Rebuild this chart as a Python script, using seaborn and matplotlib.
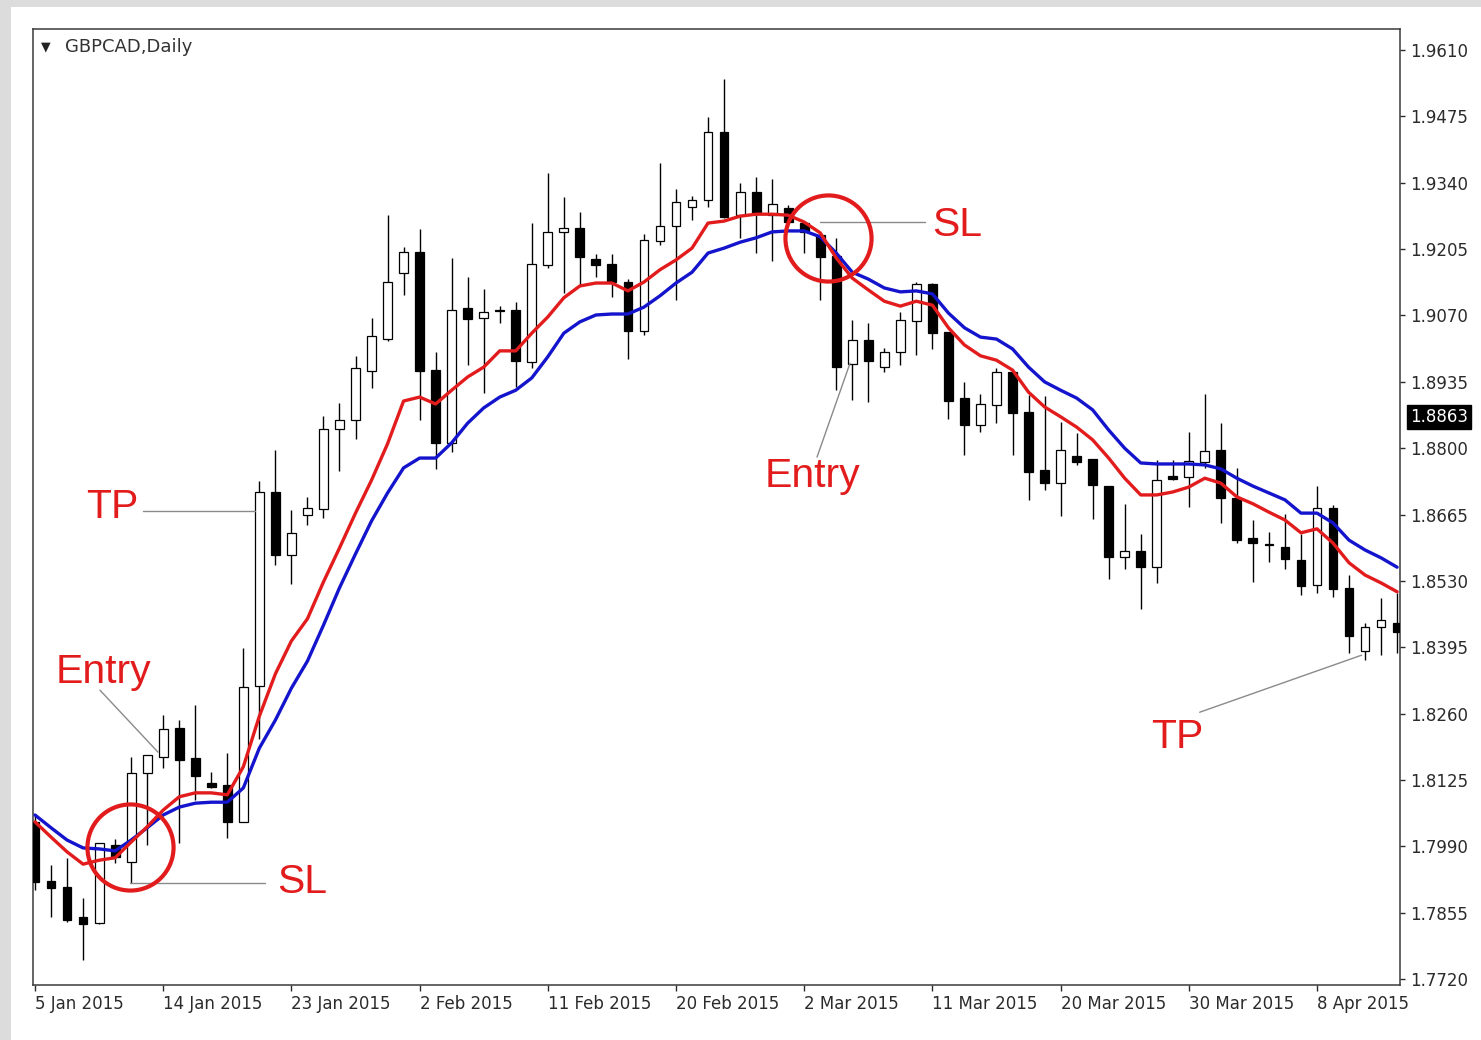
import numpy as np
import pandas as pd
import matplotlib
matplotlib.use("Agg")
import matplotlib.pyplot as plt
import matplotlib.transforms as mtrans
from matplotlib.patches import Rectangle
import seaborn as sns

# ---------------- data ----------------
symbol_title = "GBPCAD,Daily"

opens = [1.8040, 1.7920, 1.7908, 1.7847, 1.7834, 1.7993, 1.7958, 1.8139, 1.8172, 1.8231,
         1.8170, 1.8119, 1.8115, 1.8040, 1.8316, 1.8711, 1.8583, 1.8664, 1.8676, 1.8839,
         1.8857, 1.8957, 1.9022, 1.9156, 1.9199, 1.8959, 1.8811, 1.9085, 1.9065, 1.9079,
         1.9081, 1.8975, 1.9173, 1.9240, 1.9248, 1.9185, 1.9175, 1.9138, 1.9038, 1.9222,
         1.9252, 1.9291, 1.9305, 1.9443, 1.9274, 1.9321, 1.9274, 1.9289, 1.9258, 1.9234,
         1.9191, 1.8971, 1.9020, 1.8965, 1.8996, 1.9059, 1.9134, 1.9036, 1.8902, 1.8847,
         1.8888, 1.8955, 1.8874, 1.8756, 1.8729, 1.8784, 1.8778, 1.8723, 1.8579, 1.8591,
         1.8558, 1.8744, 1.8741, 1.8772, 1.8796, 1.8699, 1.8617, 1.8605, 1.8599, 1.8573,
         1.8522, 1.8678, 1.8516, 1.8388, 1.8436, 1.8445]

highs = [1.8054, 1.7952, 1.7967, 1.7885, 1.7998, 1.8005, 1.8172, 1.8177, 1.8257, 1.8247,
         1.8278, 1.8141, 1.8180, 1.8394, 1.8733, 1.8796, 1.8674, 1.8701, 1.8866, 1.8892,
         1.8988, 1.9065, 1.9274, 1.9209, 1.9246, 1.8996, 1.9187, 1.9148, 1.9124, 1.9089,
         1.9097, 1.9258, 1.9360, 1.9311, 1.9280, 1.9195, 1.9195, 1.9144, 1.9236, 1.9380,
         1.9327, 1.9313, 1.9474, 1.9551, 1.9339, 1.9352, 1.9348, 1.9295, 1.9260, 1.9238,
         1.9228, 1.9061, 1.9055, 1.9004, 1.9077, 1.9138, 1.9136, 1.9037, 1.8935, 1.8910,
         1.8963, 1.8959, 1.8908, 1.8906, 1.8853, 1.8831, 1.8779, 1.8724, 1.8687, 1.8626,
         1.8776, 1.8776, 1.8833, 1.8910, 1.8851, 1.8760, 1.8654, 1.8630, 1.8666, 1.8626,
         1.8724, 1.8685, 1.8542, 1.8445, 1.8495, 1.8506]

lows = [1.7901, 1.7847, 1.7836, 1.7759, 1.7833, 1.7956, 1.7916, 1.7993, 1.8150, 1.7997,
        1.8085, 1.8109, 1.8007, 1.8039, 1.8209, 1.8562, 1.8524, 1.8644, 1.8658, 1.8754,
        1.8819, 1.8923, 1.9018, 1.9112, 1.8857, 1.8758, 1.8792, 1.8969, 1.8912, 1.9055,
        1.8925, 1.8963, 1.9167, 1.9116, 1.9132, 1.9148, 1.9108, 1.8981, 1.9030, 1.9213,
        1.9102, 1.9264, 1.9291, 1.9268, 1.9228, 1.9197, 1.9181, 1.9252, 1.9197, 1.9102,
        1.8918, 1.8898, 1.8894, 1.8955, 1.8969, 1.8990, 1.9002, 1.8859, 1.8786, 1.8833,
        1.8851, 1.8786, 1.8695, 1.8715, 1.8662, 1.8766, 1.8656, 1.8534, 1.8554, 1.8473,
        1.8526, 1.8736, 1.8680, 1.8760, 1.8648, 1.8607, 1.8528, 1.8569, 1.8554, 1.8501,
        1.8506, 1.8497, 1.8384, 1.8369, 1.8379, 1.8384]

closes = [1.7918, 1.7906, 1.7840, 1.7832, 1.7997, 1.7969, 1.8139, 1.8176, 1.8229, 1.8166,
          1.8133, 1.8111, 1.8040, 1.8314, 1.8711, 1.8583, 1.8628, 1.8678, 1.8839, 1.8857,
          1.8963, 1.9028, 1.9138, 1.9199, 1.8957, 1.8811, 1.9081, 1.9063, 1.9077, 1.9081,
          1.8977, 1.9175, 1.9240, 1.9248, 1.9189, 1.9173, 1.9138, 1.9038, 1.9224, 1.9252,
          1.9301, 1.9305, 1.9443, 1.9270, 1.9321, 1.9278, 1.9297, 1.9260, 1.9240, 1.9189,
          1.8965, 1.9020, 1.8977, 1.8996, 1.9061, 1.9134, 1.9034, 1.8896, 1.8847, 1.8890,
          1.8955, 1.8872, 1.8752, 1.8729, 1.8796, 1.8772, 1.8725, 1.8579, 1.8591, 1.8558,
          1.8735, 1.8737, 1.8774, 1.8794, 1.8699, 1.8613, 1.8607, 1.8603, 1.8575, 1.8520,
          1.8678, 1.8514, 1.8418, 1.8436, 1.8451, 1.8426]

ma_red = [1.8040, 1.8009, 1.7979, 1.7954, 1.7962, 1.7967, 1.7999, 1.8030, 1.8064, 1.8091,
          1.8099, 1.8099, 1.8095, 1.8152, 1.8255, 1.8341, 1.8408, 1.8453, 1.8528, 1.8597,
          1.8668, 1.8735, 1.8809, 1.8896, 1.8904, 1.8890, 1.8918, 1.8945, 1.8965, 1.8998,
          1.8998, 1.9034, 1.9067, 1.9106, 1.9130, 1.9136, 1.9136, 1.9120, 1.9138, 1.9163,
          1.9183, 1.9207, 1.9258, 1.9262, 1.9272, 1.9276, 1.9276, 1.9274, 1.9260, 1.9238,
          1.9187, 1.9146, 1.9122, 1.9099, 1.9089, 1.9099, 1.9091, 1.9045, 1.9010, 1.8988,
          1.8979, 1.8959, 1.8914, 1.8884, 1.8864, 1.8843, 1.8817, 1.8780, 1.8739, 1.8705,
          1.8705, 1.8711, 1.8721, 1.8739, 1.8729, 1.8701, 1.8687, 1.8670, 1.8654, 1.8628,
          1.8636, 1.8607, 1.8567, 1.8542, 1.8526, 1.8508]

ma_blue = [1.8054, 1.8028, 1.8003, 1.7987, 1.7985, 1.7981, 1.8003, 1.8028, 1.8054, 1.8070,
           1.8078, 1.8080, 1.8080, 1.8109, 1.8190, 1.8247, 1.8312, 1.8367, 1.8440, 1.8516,
           1.8585, 1.8652, 1.8709, 1.8760, 1.8780, 1.8780, 1.8811, 1.8851, 1.8882, 1.8904,
           1.8918, 1.8943, 1.8986, 1.9034, 1.9057, 1.9071, 1.9073, 1.9073, 1.9087, 1.9110,
           1.9136, 1.9158, 1.9197, 1.9207, 1.9219, 1.9228, 1.9240, 1.9242, 1.9242, 1.9230,
           1.9197, 1.9158, 1.9144, 1.9126, 1.9118, 1.9120, 1.9114, 1.9075, 1.9045, 1.9026,
           1.9022, 1.9002, 1.8965, 1.8935, 1.8918, 1.8902, 1.8878, 1.8837, 1.8800, 1.8770,
           1.8768, 1.8768, 1.8768, 1.8766, 1.8758, 1.8739, 1.8723, 1.8709, 1.8695, 1.8668,
           1.8668, 1.8648, 1.8613, 1.8593, 1.8577, 1.8558]

date_tick_bars = [0, 8, 16, 24, 32, 40, 48, 56, 64, 72, 80]
date_tick_labels = ["5 Jan 2015", "14 Jan 2015", "23 Jan 2015", "2 Feb 2015",
                    "11 Feb 2015", "20 Feb 2015", "2 Mar 2015", "11 Mar 2015",
                    "20 Mar 2015", "30 Mar 2015", "8 Apr 2015"]
price_ticks = ["1.9610", "1.9475", "1.9340", "1.9205", "1.9070", "1.8935", "1.8800",
               "1.8665", "1.8530", "1.8395", "1.8260", "1.8125", "1.7990", "1.7855",
               "1.7720"]
current_price = "1.8863"

# ---------------- figure ----------------
sns.set_style("white")
plt.rcParams["font.family"] = ["DejaVu Sans"]

W, H = 1481, 1040
fig = plt.figure(figsize=(W / 100, H / 100), dpi=100)
fig.patch.set_facecolor("white")
fig.patches.append(Rectangle((0, 0), 11 / W, 1, transform=fig.transFigure,
                             facecolor="#dcdcdc", edgecolor="none", zorder=-10))
fig.patches.append(Rectangle((0, 1 - 7 / H), 1, 7 / H, transform=fig.transFigure,
                             facecolor="#dcdcdc", edgecolor="none", zorder=-10))

ax = fig.add_axes([33 / W, 1 - 985 / H, (1400 - 33) / W, (985 - 29) / H])
ax.set_facecolor("white")

df = pd.DataFrame({"open": opens, "high": highs, "low": lows, "close": closes,
                   "ma_red": ma_red, "ma_blue": ma_blue})
df["bar"] = np.arange(len(df))
up = df["close"] >= df["open"]
body_bottom = np.minimum(df["open"], df["close"])
body_height = np.abs(df["close"] - df["open"])

# wicks and bodies
ax.vlines(df["bar"], df["low"], df["high"], color="black", linewidth=1.0, zorder=2)
ax.bar(df["bar"], body_height, bottom=body_bottom, width=0.55,
       color=np.where(up, "white", "black"), edgecolor="black", linewidth=0.9, zorder=3)

# moving averages
sns.lineplot(data=df, x="bar", y="ma_blue", color="#1414cc", linewidth=2.4, ax=ax, zorder=4)
sns.lineplot(data=df, x="bar", y="ma_red", color="#e21c1c", linewidth=2.4, ax=ax, zorder=4)

# axes limits / ticks
ax.set_xlim(-0.125, 85.18)
ax.set_ylim(1.77082, 1.96527)
ax.set_xlabel("")
ax.set_ylabel("")

ax.yaxis.tick_right()
ax.set_yticks([float(t) for t in price_ticks])
ax.set_yticklabels(price_ticks)
ax.set_xticks(date_tick_bars)
ax.set_xticklabels(date_tick_labels)
for lbl in ax.get_xticklabels():
    lbl.set_horizontalalignment("left")
ax.tick_params(axis="y", which="both", left=False, right=True, direction="out",
               length=3.6, width=1.0, pad=3.5, labelsize=12, colors="#2b2b2b")
ax.tick_params(axis="x", which="both", bottom=True, direction="out",
               length=4.5, width=1.0, pad=2.5, labelsize=12, colors="#2b2b2b")
for sp in ax.spines.values():
    sp.set_visible(True)
    sp.set_color("#3a3a3a")
    sp.set_linewidth(1.1)

# title
ax.text(0.0095, 0.9815, "\u25BC", transform=ax.transAxes, fontsize=9,
        ha="center", va="center", color="#222222")
ax.text(0.0234, 0.9815, symbol_title, transform=ax.transAxes, fontsize=13,
        ha="left", va="center", color="#333333")

# current price box on the right axis
trans = mtrans.blended_transform_factory(ax.transAxes, ax.transData)
ax.text(1.0075, float(current_price), current_price, transform=trans, fontsize=12,
        color="white", ha="left", va="center", clip_on=False,
        bbox=dict(boxstyle="square,pad=0.18", facecolor="black", edgecolor="black"))

# annotations
red = "#e21c1c"
grey = "#8a8a8a"
afont = dict(family=["Liberation Sans", "DejaVu Sans"], fontsize=29.5, color=red)

ax.plot([6.74, 13.72], [1.8672, 1.8672], color=grey, lw=1.0, zorder=5)
ax.text(4.8, 1.8658, "TP", ha="center", va="baseline", zorder=7, **afont)

ax.plot([4.05, 7.67], [1.8308, 1.8182], color=grey, lw=1.0, zorder=5)
ax.text(4.3, 1.8322, "Entry", ha="center", va="baseline", zorder=7, **afont)

ax.plot([5.93, 14.35], [1.7916, 1.7916], color=grey, lw=1.0, zorder=5)
ax.text(16.66, 1.7895, "SL", ha="center", va="baseline", zorder=7, **afont)

ax.plot([48.97, 55.52], [1.9260, 1.9260], color=grey, lw=1.0, zorder=5)
ax.text(57.53, 1.9232, "SL", ha="center", va="baseline", zorder=7, **afont)

ax.plot([48.80, 50.86], [1.8782, 1.8973], color=grey, lw=1.0, zorder=5)
ax.text(48.49, 1.8721, "Entry", ha="center", va="baseline", zorder=7, **afont)

ax.plot([72.68, 82.78], [1.8263, 1.8379], color=grey, lw=1.0, zorder=5)
ax.text(71.26, 1.8190, "TP", ha="center", va="baseline", zorder=7, **afont)

# circles
ax.plot([5.93], [1.7989], marker="o", markersize=62, markerfacecolor="none",
        markeredgecolor=red, markeredgewidth=3.0, zorder=6)
ax.plot([49.47], [1.9228], marker="o", markersize=62, markerfacecolor="none",
        markeredgecolor=red, markeredgewidth=3.0, zorder=6)

fig.savefig("out.png", dpi=100)
